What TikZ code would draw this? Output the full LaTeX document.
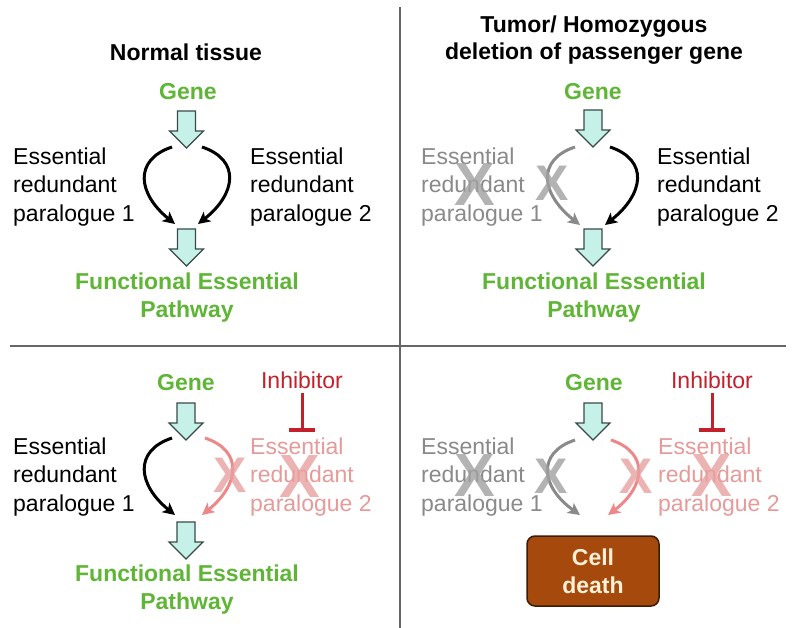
\documentclass[tikz,border=0pt]{standalone}
\usepackage{fontspec}
\setmainfont{Liberation Sans}
\usetikzlibrary{arrows.meta}
\definecolor{gtxt}{HTML}{5FB536}
\definecolor{afill}{HTML}{C6F1E8}
\definecolor{aline}{HTML}{3A4A48}
\definecolor{grayt}{HTML}{8A8A8A}
\definecolor{pinkt}{HTML}{E79A9A}
\definecolor{pinkc}{HTML}{EE8888}
\definecolor{redt}{HTML}{C4202C}
\definecolor{xgray}{HTML}{A0A0A0}
\definecolor{xpink}{HTML}{E8A0A0}
\definecolor{boxfill}{HTML}{A5490D}
\definecolor{boxline}{HTML}{3B1C08}
\definecolor{boxtext}{HTML}{FFF0D6}
\definecolor{divider}{HTML}{666666}
\tikzset{
  x=1pt, y=-1pt,
  lbl/.style={font=\fontsize{23}{28.5}\selectfont, align=left, anchor=west, inner sep=0pt},
  title/.style={font=\fontsize{23}{27}\selectfont\bfseries, align=center, inner sep=0pt},
  gene/.style={font=\fontsize{23}{28}\selectfont\bfseries, text=gtxt, align=center, inner sep=0pt},
  inhib/.style={font=\fontsize{23}{28}\selectfont, text=redt, inner sep=0pt},
  curve/.style={line width=3pt, -{Stealth[length=12pt,width=12pt,inset=3pt]}},
  bigx/.style={font=\fontsize{61}{61}\selectfont\bfseries, inner sep=0pt},
  smallx/.style={font=\fontsize{50}{50}\selectfont\bfseries, inner sep=0pt},
  barrow/.pic={\draw[fill=afill, draw=aline, line width=1.2pt, line join=miter]
     (-9,0) -- (9,0) -- (9,20) -- (17,20) -- (0,37) -- (-17,20) -- (-9,20) -- cycle;},
  deathbox/.style={rectangle, rounded corners=8pt, fill=boxfill, draw=boxline, line width=1.5pt,
     minimum width=132pt, minimum height=70pt, text=boxtext,
     font=\fontsize{23}{28}\selectfont\bfseries, align=center},
  divline/.style={draw=divider, line width=1.3pt},
}
\begin{document}
\begin{tikzpicture}
\useasboundingbox (0,0) rectangle (800,628);
\fill[white] (0,0) rectangle (800,628);
% dividers
\coordinate (vtop) at (400,7);
\coordinate (vbot) at (400,628);
\coordinate (hl) at (10,346);
\coordinate (hr) at (786,346);
\draw[divline] (vtop) -- (vbot);
\draw[divline] (hl) -- (hr);

% ---------- top-left ----------
\node[title] (t1) at (186,52) {Normal tissue};
\node[gene] (g1) at (188,92) {Gene};
\pic at (186.5,111) {barrow};
\node[lbl] (l1a) at (13,187) {Essential\\redundant\\paralogue 1};
\node[lbl] (l1b) at (250,187) {Essential\\redundant\\paralogue 2};
\coordinate (s1a) at (172,147); \coordinate (e1a) at (175,224);
\coordinate (s1b) at (202,147); \coordinate (e1b) at (198,224);
\draw[curve] (s1a) .. controls (133,160) and (138,194) .. (e1a);
\draw[curve] (s1b) .. controls (241,160) and (236,194) .. (e1b);
\pic at (186.5,229) {barrow};
\node[gene] (p1) at (187,298) {Functional Essential\\Pathway};

% ---------- top-right ----------
\node[title] (t2) at (594,40) {Tumor/ Homozygous\\deletion of passenger gene};
\node[gene] (g2) at (593,92) {Gene};
\pic at (593,110) {barrow};
\node[lbl, text=grayt] (l2a) at (421,187) {Essential\\redundant\\paralogue 1};
\node[lbl] (l2b) at (657,187) {Essential\\redundant\\paralogue 2};
\coordinate (s2a) at (575,147); \coordinate (e2a) at (580,225);
\coordinate (s2b) at (610,147); \coordinate (e2b) at (605,225);
\draw[curve, grayt] (s2a) .. controls (536,160) and (541,194) .. (e2a);
\draw[curve] (s2b) .. controls (649,160) and (644,194) .. (e2b);
\node[bigx, text=xgray, opacity=0.8] (x2a) at (475,185) {X};
\node[smallx, text=xgray, opacity=0.8] (x2b) at (552,183) {X};
\pic at (593,229) {barrow};
\node[gene] (p2) at (594,298) {Functional Essential\\Pathway};

% ---------- bottom-left ----------
\node[gene] (g3) at (186,383) {Gene};
\node[inhib] (i3) at (302,380) {Inhibitor};
\coordinate (b3) at (302,432);
\draw[redt, line width=3pt, -{Bar[width=26pt,line width=4pt]}] (i3.south) ++(0,4) -- (b3);
\pic at (186,403) {barrow};
\node[lbl] (l3a) at (13,477) {Essential\\redundant\\paralogue 1};
\node[lbl, text=pinkt] (l3b) at (250,477) {Essential\\redundant\\paralogue 2};
\coordinate (s3a) at (172,438); \coordinate (e3a) at (175,515);
\coordinate (s3b) at (205,438); \coordinate (e3b) at (202,515);
\draw[curve] (s3a) .. controls (133,451) and (138,485) .. (e3a);
\draw[curve, pinkc] (s3b) .. controls (244,451) and (239,485) .. (e3b);
\node[smallx, text=xpink, opacity=0.8] (x3a) at (230,475) {X};
\node[bigx, text=xpink, opacity=0.8] (x3b) at (300,477) {X};
\pic at (186,522) {barrow};
\node[gene] (p3) at (187,590) {Functional Essential\\Pathway};

% ---------- bottom-right ----------
\node[gene] (g4) at (594,383) {Gene};
\node[inhib] (i4) at (712,380) {Inhibitor};
\coordinate (b4) at (712,432);
\draw[redt, line width=3pt, -{Bar[width=26pt,line width=4pt]}] (i4.south) ++(0,4) -- (b4);
\pic at (593,403) {barrow};
\node[lbl, text=grayt] (l4a) at (421,477) {Essential\\redundant\\paralogue 1};
\node[lbl, text=pinkt] (l4b) at (658,477) {Essential\\redundant\\paralogue 2};
\coordinate (s4a) at (575,440); \coordinate (e4a) at (580,515);
\coordinate (s4b) at (611,440); \coordinate (e4b) at (608,515);
\draw[curve, grayt] (s4a) .. controls (536,453) and (541,487) .. (e4a);
\draw[curve, pinkc] (s4b) .. controls (650,453) and (645,487) .. (e4b);
\node[bigx, text=xgray, opacity=0.8] (x4a) at (475,476) {X};
\node[smallx, text=xgray, opacity=0.8] (x4b) at (551,476) {X};
\node[smallx, text=xpink, opacity=0.8] (x4c) at (636,476) {X};
\node[bigx, text=xpink, opacity=0.8] (x4d) at (712,476) {X};
\node[deathbox] (cd) at (593,571) {Cell\\death};
\end{tikzpicture}
\end{document}
